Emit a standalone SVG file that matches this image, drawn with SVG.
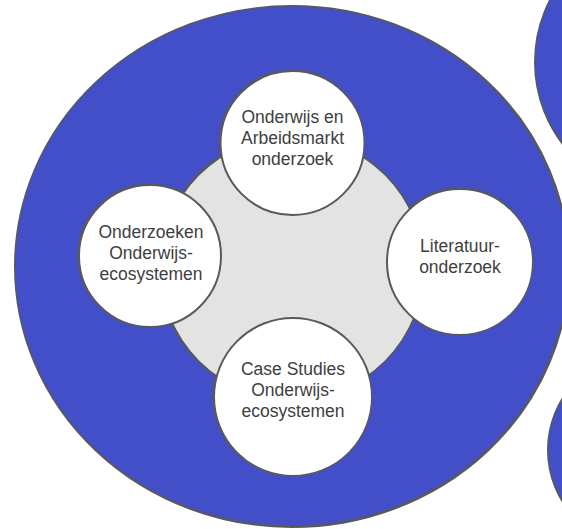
<svg xmlns="http://www.w3.org/2000/svg" width="562" height="529" viewBox="0 0 562 529">
  <style>
    .blue { fill: #434fc9; stroke: #595959; stroke-width: 2; }
    .core { fill: #e3e3e3; stroke: #595959; stroke-width: 2; }
    .node { fill: #ffffff; stroke: #595959; stroke-width: 2; }
    .label { font-family: "Liberation Sans", Arial, sans-serif; font-size: 17.5px; fill: #404040; text-anchor: middle; }
  </style>
  <rect width="562" height="529" fill="#ffffff"/>
  <g id="side-circle-top">
    <circle class="blue" cx="670" cy="62" r="135"/>
  </g>
  <g id="side-circle-bottom">
    <circle class="blue" cx="646" cy="450" r="98"/>
  </g>
  <g id="outer-ring">
    <ellipse class="blue" cx="292" cy="266.5" rx="277" ry="260.5"/>
  </g>
  <g id="core">
    <circle class="core" cx="292" cy="268" r="132"/>
  </g>
  <g id="connectors"></g>
  <g id="node-top">
    <circle class="node" cx="292.5" cy="143" r="72"/>
    <text class="label" x="292.5" y="123">Onderwijs en</text>
    <text class="label" x="292.5" y="144">Arbeidsmarkt</text>
    <text class="label" x="292.5" y="165">onderzoek</text>
  </g>
  <g id="node-left">
    <circle class="node" cx="150" cy="256" r="71"/>
    <text class="label" x="151" y="238">Onderzoeken</text>
    <text class="label" x="151" y="259">Onderwijs-</text>
    <text class="label" x="151" y="280">ecosystemen</text>
  </g>
  <g id="node-right">
    <circle class="node" cx="460" cy="262" r="73"/>
    <text class="label" x="460" y="252">Literatuur-</text>
    <text class="label" x="460" y="273">onderzoek</text>
  </g>
  <g id="node-bottom">
    <circle class="node" cx="293" cy="397" r="79"/>
    <text class="label" x="293" y="375">Case Studies</text>
    <text class="label" x="293" y="396">Onderwijs-</text>
    <text class="label" x="293" y="417">ecosystemen</text>
  </g>
</svg>
